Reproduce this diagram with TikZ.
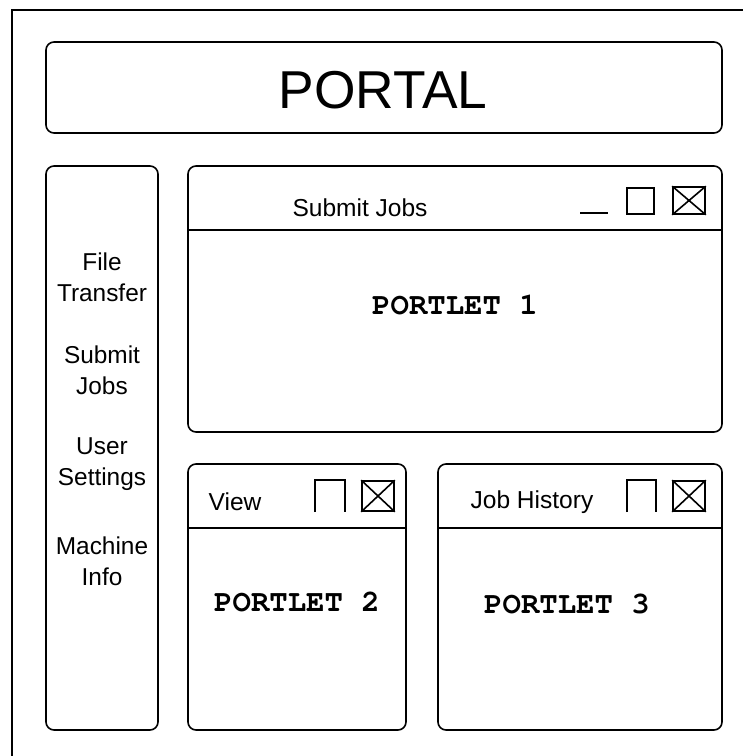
\documentclass[tikz,border=0pt]{standalone}
\usepackage{fontspec}
\usetikzlibrary{fit}
\setmainfont{Liberation Sans}
\newcommand\courb{\fontencoding{T1}\fontfamily{pcr}\fontseries{b}\selectfont}
\begin{document}
\begin{tikzpicture}[x=0.75pt,y=-0.75pt,
  panel/.style={draw,line width=1.2pt,rounded corners=6pt,inner sep=0pt},
  divider/.style={line width=1.9pt},
  icon/.style={line width=1.2pt},
  iconbox/.style={draw,line width=1.2pt,inner sep=0pt},
  lbl/.style={inner sep=0pt,font=\fontsize{18.4pt}{23pt}\selectfont},
  side/.style={inner sep=0pt,align=center,font=\fontsize{18.3pt}{23.5pt}\selectfont},
  plet/.style={inner sep=0pt,font=\fontsize{23pt}{26pt}\courb}]
\useasboundingbox (0,0) rectangle (742,756);
% outer frame (right and bottom lie outside the picture)
\coordinate (fbl) at (12,760);
\coordinate (ftl) at (12,10);
\coordinate (ftr) at (746,10);
\draw[line width=1.2pt] (fbl) -- (ftl) -- (ftr);
% portal header
\coordinate (pa) at (46,42); \coordinate (pb) at (722,133);
\node[panel,fit=(pa)(pb)] (portal) {};
\node[inner sep=0pt,font=\fontsize{40pt}{42pt}\selectfont] (portaltxt) at (383,90) {PORTAL};
% sidebar
\coordinate (sa) at (46,166); \coordinate (sb) at (158,730);
\node[panel,fit=(sa)(sb)] (sidebar) {};
\node[side] (s1) at (102,277) {File\\Transfer};
\node[side] (s2) at (102,370) {Submit\\Jobs};
\node[side] (s3) at (102,464) {User\\Settings};
\node[side] (s4) at (102,561) {Machine\\Info};
% portlet 1
\coordinate (p1a) at (188,166); \coordinate (p1b) at (722,432);
\node[panel,fit=(p1a)(p1b)] (p1) {};
\coordinate (p1l) at (188,230);
\coordinate (p1r) at (722,230);
\draw[divider] (p1l) -- (p1r);
\node[lbl] (t1) at (360,208) {Submit Jobs};
\node[plet] (pl1) at (455,305) {PORTLET 1};
\coordinate (m1a) at (580,213); \coordinate (m1b) at (608,213);
\draw[icon] (m1a) -- (m1b);
\coordinate (q1a) at (627,188); \coordinate (q1b) at (654,214);
\node[iconbox,fit=(q1a)(q1b)] (sq1) {};
\coordinate (x1a) at (673,187); \coordinate (x1b) at (705,214);
\node[iconbox,fit=(x1a)(x1b)] (x1) {};
\draw[icon] (x1.north west) -- (x1.south east) (x1.north east) -- (x1.south west);
% portlet 2
\coordinate (p2a) at (188,464); \coordinate (p2b) at (406,730);
\node[panel,fit=(p2a)(p2b)] (p2) {};
\coordinate (p2l) at (188,528);
\coordinate (p2r) at (406,528);
\draw[divider] (p2l) -- (p2r);
\node[lbl] (t2) at (235,502) {View};
\node[plet] (pl2) at (297,602) {PORTLET 2};
\coordinate (o2a) at (315,512); \coordinate (o2b) at (315,480);
\coordinate (o2c) at (345,480); \coordinate (o2d) at (345,512);
\draw[icon] (o2a) -- (o2b) -- (o2c) -- (o2d);
\coordinate (x2a) at (362,481); \coordinate (x2b) at (394,511);
\node[iconbox,fit=(x2a)(x2b)] (x2) {};
\draw[icon] (x2.north west) -- (x2.south east) (x2.north east) -- (x2.south west);
% portlet 3
\coordinate (p3a) at (438,464); \coordinate (p3b) at (722,730);
\node[panel,fit=(p3a)(p3b)] (p3) {};
\coordinate (p3l) at (438,528);
\coordinate (p3r) at (722,528);
\draw[divider] (p3l) -- (p3r);
\node[lbl] (t3) at (532,502) {Job History};
\node[plet] (pl3) at (567,604) {PORTLET 3};
\coordinate (o3a) at (627,512); \coordinate (o3b) at (627,480);
\coordinate (o3c) at (656,480); \coordinate (o3d) at (656,512);
\draw[icon] (o3a) -- (o3b) -- (o3c) -- (o3d);
\coordinate (x3a) at (673,481); \coordinate (x3b) at (705,511);
\node[iconbox,fit=(x3a)(x3b)] (x3) {};
\draw[icon] (x3.north west) -- (x3.south east) (x3.north east) -- (x3.south west);
\end{tikzpicture}
\end{document}
